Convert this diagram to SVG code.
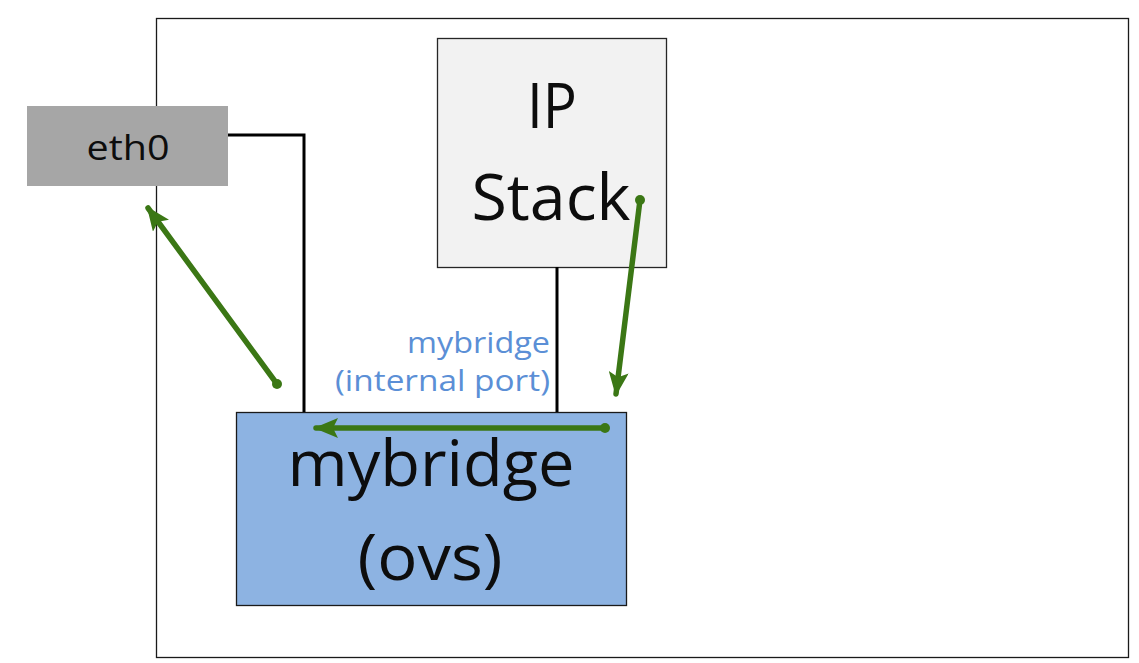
<svg xmlns="http://www.w3.org/2000/svg" width="1139" height="663" viewBox="0 0 1139 663">
<style>
.t{font-family:"Open Sans","Liberation Sans",sans-serif;fill:#0d0d0d;text-anchor:middle}
.lbl{font-family:"Open Sans","Liberation Sans",sans-serif;fill:#5b8fd6;text-anchor:end}
.wire{fill:none;stroke:#000;stroke-width:3}
.flow{fill:none;stroke:#3b7715;stroke-width:5.5;stroke-linecap:round}
</style>
<defs>
<marker id="ah" viewBox="0 0 24 20" refX="22" refY="10" markerWidth="24" markerHeight="20" markerUnits="userSpaceOnUse" orient="auto">
<path d="M0,0 L24,10 L0,20 L5,10 Z" fill="#3b7715"/>
</marker>
<marker id="dot" viewBox="0 0 10 10" refX="5" refY="5" markerWidth="10" markerHeight="10" markerUnits="userSpaceOnUse">
<circle cx="5" cy="5" r="5" fill="#3b7715"/>
</marker>
</defs>
<rect x="0" y="0" width="1139" height="663" fill="#fff"/>
<rect id="frame" x="156.5" y="18.5" width="972" height="639" fill="none" stroke="#1a1a1a" stroke-width="1.3"/>
<g id="eth0">
<rect x="27" y="106" width="201" height="80" fill="#a6a6a6"/>
<text class="t" x="128" y="160" font-size="35" textLength="83" lengthAdjust="spacingAndGlyphs">eth0</text>
</g>
<g id="ipstack">
<rect x="437.5" y="38.5" width="229" height="229" fill="#f2f2f2" stroke="#262626" stroke-width="1.3"/>
<text class="t" x="552" y="128" font-size="62" textLength="50" lengthAdjust="spacingAndGlyphs">IP</text>
<text class="t" x="551" y="220" font-size="64" textLength="159" lengthAdjust="spacingAndGlyphs">Stack</text>
</g>
<g id="mybridge">
<rect x="236.5" y="412.5" width="390" height="193" fill="#8db3e2" stroke="#1a1a1a" stroke-width="1.3"/>
<text class="t" x="431" y="486" font-size="64" textLength="287" lengthAdjust="spacingAndGlyphs">mybridge</text>
<text class="t" x="430" y="580" font-size="64" textLength="145" lengthAdjust="spacingAndGlyphs">(ovs)</text>
</g>
<g id="port-label">
<text class="lbl" x="550" y="353" font-size="30" textLength="143" lengthAdjust="spacingAndGlyphs">mybridge</text>
<text class="lbl" x="550" y="391" font-size="30" textLength="215" lengthAdjust="spacingAndGlyphs">(internal port)</text>
</g>
<g id="connectors">
<polyline class="wire" points="228,135 304,135 304,412"/>
<line class="wire" x1="557" y1="267" x2="557" y2="412"/>
<line class="flow" x1="277" y1="384" x2="148" y2="208" marker-start="url(#dot)" marker-end="url(#ah)"/>
<line class="flow" x1="640" y1="200" x2="616" y2="394" marker-start="url(#dot)" marker-end="url(#ah)"/>
<line class="flow" x1="605" y1="428" x2="316" y2="428" marker-start="url(#dot)" marker-end="url(#ah)"/>
</g>
</svg>
